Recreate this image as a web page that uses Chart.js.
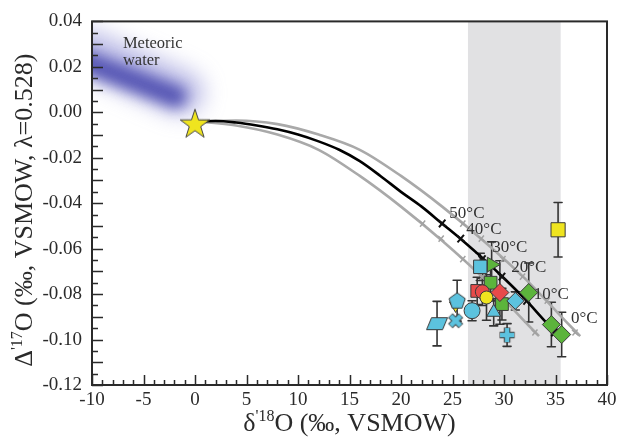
<!DOCTYPE html>
<html>
<head>
<meta charset="utf-8">
<script src="https://cdn.jsdelivr.net/npm/chart.js@4.4.1/dist/chart.umd.min.js"></script>
<style>
  html, body { margin: 0; padding: 0; background: #fff; }
</style>
</head>
<body>
<canvas id="chart" width="623" height="441"></canvas>
<script>
// axes
const xMin = -10, xMax = 40, xStep = 5;
const yMin = -0.12, yMax = 0.04, yStep = 0.02;

// grey band of d'18O values
const bandRange = [26.5, 35.5];

// meteoric water field (centre line, two passes)
const meteoricOuter = [[-10.7, 0.027], [-1.3, 0.0086]];
const meteoricInner = [[-10.7, 0.0222], [-1.9, 0.0069]];
const meteoricText = ["Meteoric", "water"];
const meteoricTextPos = [[-7.0, 0.0285], [-7.0, 0.021]];

// starting water
const startPoint = [0, -0.005];

// equilibrium curves [d'18O, D'17O]
const blackCurve = [[0, -0.004], [2, -0.0038], [4, -0.0045], [6, -0.0058], [8, -0.0075], [10, -0.0098],
  [12, -0.0128], [14, -0.0165], [16, -0.0215], [18, -0.028], [20, -0.035], [22, -0.0415], [24, -0.049],
  [26, -0.0565], [28, -0.0645], [30, -0.073], [32, -0.082], [34, -0.092], [35.6, -0.0995]];
const upperCurve = [[0, -0.004], [4, -0.0036], [8, -0.0052], [12, -0.0098], [16, -0.0165], [20, -0.028],
  [24, -0.0415], [28, -0.0565], [32, -0.073], [36, -0.092], [37.4, -0.0985]];
const lowerCurve = [[0, -0.004], [4, -0.0058], [8, -0.0098], [12, -0.0165], [16, -0.028], [20, -0.0415],
  [24, -0.0565], [28, -0.073], [32, -0.092], [33.4, -0.0985]];

// temperature marks
const tempLabels = ["50°C", "40°C", "30°C", "20°C", "10°C", "0°C"];
const tempMarks = [[24.0, -0.0489], [25.8, -0.0556], [27.9, -0.0646], [29.8, -0.0723], [32.2, -0.0829], [34.9, -0.0969]];
const tempMarksUpper = [[26.0, -0.049], [27.8, -0.0556], [29.9, -0.0646], [31.8, -0.0723], [34.2, -0.0829], [36.9, -0.0969]];
const tempMarksLower = [[22.1, -0.049], [23.9, -0.0556], [26.0, -0.0646], [27.9, -0.0723], [30.3, -0.0829], [33.0, -0.0969]];
const tempLabelPos = [[26.4, -0.0446], [28.05, -0.0515], [30.56, -0.0594], [32.4, -0.0681], [34.6, -0.0803], [37.8, -0.0908]];

// samples [d'18O, D'17O, error]
const yellowCircles = [[28.3, -0.0815, 0.010]];
const redDiamonds = [[29.6, -0.0793, 0.014]];
const blueTriangles = [[29.0, -0.088, 0.006]];
const blueDiamonds = [[31.1, -0.083, 0.004]];
const redCircles = [[27.9, -0.079, 0.006]];
const greenSquares = [[28.7, -0.075, 0.008], [29.8, -0.0844, 0.007]];
const redSquares = [[27.4, -0.0786, 0.006]];
const greenTriangles = [[28.8, -0.067, 0.010]];
const blueSquares = [[27.7, -0.068, 0.006]];
const greenDiamonds = [[32.4, -0.0793, 0.013], [34.6, -0.0934, 0.0098], [35.6, -0.0978, 0.0098]];
const yellowSquares = [[35.25, -0.0517, 0.012]];
const blueCircles = [[26.9, -0.0873, 0.0044]];
const bluePentagons = [[25.45, -0.0829, 0.009]];
const yellowTriangles = [[25.3, -0.085, 0]];
const blueCrosses = [[25.3, -0.0917, 0]];
const bluePluses = [[30.3, -0.098, 0.005]];
const blueParallelograms = [[23.5, -0.093, 0.0098]];

const CYAN = "#5cc2de", GREEN = "#5cb43c", RED = "#e84a4a", YELLOW = "#efe41f", EDGE = "#3a3a3a";
const SERIF = '"Liberation Serif", "Times New Roman", serif';

function makeMarker(w, h, draw) {
  const c = document.createElement("canvas");
  c.width = w; c.height = h;
  draw(c.getContext("2d"), w, h);
  return c;
}
const starImg = makeMarker(34, 34, (g) => {
  g.beginPath();
  for (let i = 0; i < 10; i++) {
    const r = i % 2 ? 6 : 15.5;
    const a = -Math.PI / 2 + i * Math.PI / 5;
    g.lineTo(17 + r * Math.cos(a), 18 + r * Math.sin(a));
  }
  g.closePath();
  g.fillStyle = YELLOW; g.fill();
  g.strokeStyle = "#444"; g.lineWidth = 1; g.stroke();
});
const pentagonImg = makeMarker(20, 20, (g) => {
  g.beginPath();
  for (let i = 0; i < 5; i++) {
    const a = -Math.PI / 2 + i * 2 * Math.PI / 5;
    g.lineTo(10 + 8.5 * Math.cos(a), 10.5 + 8.5 * Math.sin(a));
  }
  g.closePath();
  g.fillStyle = CYAN; g.fill();
  g.strokeStyle = EDGE; g.lineWidth = 1; g.stroke();
});
const paraImg = makeMarker(24, 15, (g) => {
  g.beginPath();
  g.moveTo(6.5, 1.5); g.lineTo(22.5, 1.5); g.lineTo(17.5, 13.5); g.lineTo(1.5, 13.5);
  g.closePath();
  g.fillStyle = CYAN; g.fill();
  g.strokeStyle = EDGE; g.lineWidth = 1; g.stroke();
});
function thickCross(rot) {
  return makeMarker(18, 18, (g) => {
    g.translate(9, 9); g.rotate(rot);
    g.strokeStyle = EDGE; g.lineWidth = 6.5;
    g.beginPath(); g.moveTo(-7.5, 0); g.lineTo(7.5, 0); g.moveTo(0, -7.5); g.lineTo(0, 7.5); g.stroke();
    g.strokeStyle = CYAN; g.lineWidth = 4.5;
    g.beginPath(); g.moveTo(-7, 0); g.lineTo(7, 0); g.moveTo(0, -7); g.lineTo(0, 7); g.stroke();
  });
}
const xImg = thickCross(Math.PI / 4);
const plusImg = thickCross(0);

const pts = (arr) => arr.map((p) => ({ x: p[0], y: p[1] }));

function marker(data, style, color, radius, extra) {
  return Object.assign({
    type: "scatter", data: pts(data), pointStyle: style,
    backgroundColor: color, borderColor: EDGE, borderWidth: 1,
    pointRadius: radius, clip: false
  }, extra || {});
}
function curve(data, color, width) {
  return {
    type: "line", data: pts(data), borderColor: color, borderWidth: width,
    pointRadius: 0, cubicInterpolationMode: "monotone", fill: false
  };
}
function ticksSet(data, color, radius, width) {
  return {
    type: "scatter", data: pts(data), pointStyle: "cross", rotation: 40,
    borderColor: color, borderWidth: width, pointRadius: radius
  };
}

// first item ends up on top
const front = [
  marker([startPoint], starImg, YELLOW, 15),
  marker(yellowCircles, "circle", YELLOW, 6.5),
  marker(redDiamonds, "rectRot", RED, 9),
  marker(blueTriangles, "triangle", CYAN, 8),
  marker(blueDiamonds, "rectRot", CYAN, 8.5),
  marker(redCircles, "circle", RED, 7),
  marker(greenSquares, "rect", GREEN, 9),
  marker(redSquares, "rect", RED, 9),
  marker(greenTriangles, "triangle", GREEN, 8.5, { rotation: 90 }),
  marker(blueSquares, "rect", CYAN, 9.5),
  marker(greenDiamonds, "rectRot", GREEN, 9),
  marker(yellowSquares, "rect", YELLOW, 10),
  marker(blueCircles, "circle", CYAN, 8),
  marker(bluePentagons, pentagonImg, CYAN, 9),
  marker(yellowTriangles, "triangle", YELLOW, 7, { rotation: 180 }),
  marker(blueCrosses, xImg, CYAN, 9),
  marker(bluePluses, plusImg, CYAN, 9),
  marker(blueParallelograms, paraImg, CYAN, 9),
  ticksSet(tempMarks, "#111", 5, 2),
  ticksSet(tempMarksUpper, "#a2a2a2", 4, 1.5),
  ticksSet(tempMarksLower, "#a2a2a2", 4, 1.5),
  curve(blackCurve, "#000", 2.6),
  curve(upperCurve, "#a9a9a9", 2.6),
  curve(lowerCurve, "#a9a9a9", 2.6)
];
front.forEach((d, i) => { d.order = i; });

const errorSets = [yellowCircles, redDiamonds, blueTriangles, blueDiamonds, redCircles, greenSquares,
  redSquares, greenTriangles, blueSquares, greenDiamonds, yellowSquares, blueCircles, bluePentagons,
  yellowTriangles, blueCrosses, bluePluses, blueParallelograms];

function richText(ctx, parts, cx, cy) {
  const big = "26px " + SERIF, small = "16px " + SERIF;
  let w = 0;
  parts.forEach((p) => { ctx.font = p[1] ? small : big; w += ctx.measureText(p[0]).width; });
  let x = cx - w / 2;
  ctx.textAlign = "left"; ctx.textBaseline = "alphabetic";
  parts.forEach((p) => {
    ctx.font = p[1] ? small : big;
    ctx.fillText(p[0], x, p[1] ? cy - 10 : cy);
    x += ctx.measureText(p[0]).width;
  });
}

const decor = {
  id: "decor",
  beforeDatasetsDraw(chart) {
    const { ctx, chartArea: a, scales: { x, y } } = chart;
    ctx.save();
    ctx.beginPath(); ctx.rect(a.left, a.top, a.right - a.left, a.bottom - a.top); ctx.clip();
    // band
    ctx.fillStyle = "#e1e1e3";
    const b0 = x.getPixelForValue(bandRange[0]), b1 = x.getPixelForValue(bandRange[1]);
    ctx.fillRect(b0, a.top, b1 - b0, a.bottom - a.top);
    // meteoric water
    ctx.lineCap = "round";
    [[meteoricOuter, 44, "rgba(120,120,205,0.5)", 11], [meteoricInner, 22, "rgba(60,60,168,0.8)", 7]].forEach((m) => {
      ctx.filter = "blur(" + m[3] + "px)";
      ctx.strokeStyle = m[2]; ctx.lineWidth = m[1];
      ctx.beginPath();
      ctx.moveTo(x.getPixelForValue(m[0][0][0]), y.getPixelForValue(m[0][0][1]));
      ctx.lineTo(x.getPixelForValue(m[0][1][0]), y.getPixelForValue(m[0][1][1]));
      ctx.stroke();
    });
    ctx.filter = "none";
    // error bars
    ctx.strokeStyle = "#333"; ctx.lineWidth = 1.6;
    errorSets.forEach((set) => set.forEach((p) => {
      if (!p[2]) return;
      const px = x.getPixelForValue(p[0]);
      const t = y.getPixelForValue(p[1] + p[2]), bt = y.getPixelForValue(p[1] - p[2]);
      ctx.beginPath();
      ctx.moveTo(px, t); ctx.lineTo(px, bt);
      ctx.moveTo(px - 4, t); ctx.lineTo(px + 4, t);
      ctx.moveTo(px - 4, bt); ctx.lineTo(px + 4, bt);
      ctx.stroke();
    }));
    ctx.restore();
  },
  afterDatasetsDraw(chart) {
    const { ctx, scales: { x, y } } = chart;
    ctx.save();
    ctx.fillStyle = "#333";
    ctx.font = "17px " + SERIF;
    ctx.textAlign = "center"; ctx.textBaseline = "middle";
    tempLabels.forEach((t, i) => {
      ctx.fillText(t, x.getPixelForValue(tempLabelPos[i][0]), y.getPixelForValue(tempLabelPos[i][1]));
    });
    ctx.textAlign = "left"; ctx.textBaseline = "alphabetic";
    ctx.font = "16.5px " + SERIF;
    meteoricText.forEach((t, i) => {
      ctx.fillText(t, x.getPixelForValue(meteoricTextPos[i][0]), y.getPixelForValue(meteoricTextPos[i][1]));
    });
    ctx.restore();
  },
  afterDraw(chart) {
    const { ctx, chartArea: a, scales: { x, y } } = chart;
    ctx.save();
    ctx.strokeStyle = "#2a2a2a";
    ctx.lineWidth = 1.5;
    ctx.beginPath();
    for (let v = xMin; v <= xMax; v += 1) {
      const px = Math.round(x.getPixelForValue(v)) + 0.5;
      const len = v % 5 === 0 ? 10 : 5;
      ctx.moveTo(px, a.bottom); ctx.lineTo(px, a.bottom - len);
    }
    for (let k = 0; k <= 32; k++) {
      const v = yMin + k * 0.005;
      const py = Math.round(y.getPixelForValue(v)) + 0.5;
      const len = k % 2 === 0 ? 11 : 6;
      ctx.moveTo(a.left, py); ctx.lineTo(a.left + len, py);
    }
    ctx.stroke();
    ctx.lineWidth = 2;
    ctx.strokeRect(a.left, a.top, a.right - a.left, a.bottom - a.top);
    // axis titles
    ctx.fillStyle = "#2a2a2a";
    richText(ctx, [["δ", 0], ["'18", 1], ["O (‰, VSMOW)", 0]], (a.left + a.right) / 2, 431);
    ctx.translate(32, (a.top + a.bottom) / 2 + 7);
    ctx.rotate(-Math.PI / 2);
    richText(ctx, [["Δ", 0], ["'17", 1], ["O (‰, VSMOW, λ=0.528)", 0]], 0, 0);
    ctx.restore();
  }
};

new Chart(document.getElementById("chart"), {
  type: "scatter",
  data: { datasets: front },
  options: {
    responsive: false,
    animation: false,
    events: [],
    layout: { padding: { top: 18, right: 12, left: 0, bottom: 0 } },
    plugins: { legend: { display: false }, tooltip: { enabled: false } },
    scales: {
      x: {
        type: "linear", min: xMin, max: xMax,
        grid: { display: false, drawTicks: false }, border: { display: false },
        ticks: { stepSize: xStep, padding: 4, color: "#2a2a2a", font: { family: SERIF, size: 19 }, maxRotation: 0 },
        afterFit: (s) => { s.height = 56; }
      },
      y: {
        type: "linear", min: yMin, max: yMax,
        grid: { display: false, drawTicks: false }, border: { display: false },
        ticks: { stepSize: yStep, padding: 10, color: "#2a2a2a", font: { family: SERIF, size: 19 },
          callback: (v) => Number(v).toFixed(2) },
        afterFit: (s) => { s.width = 92; }
      }
    }
  },
  plugins: [decor]
});
</script>
</body>
</html>
